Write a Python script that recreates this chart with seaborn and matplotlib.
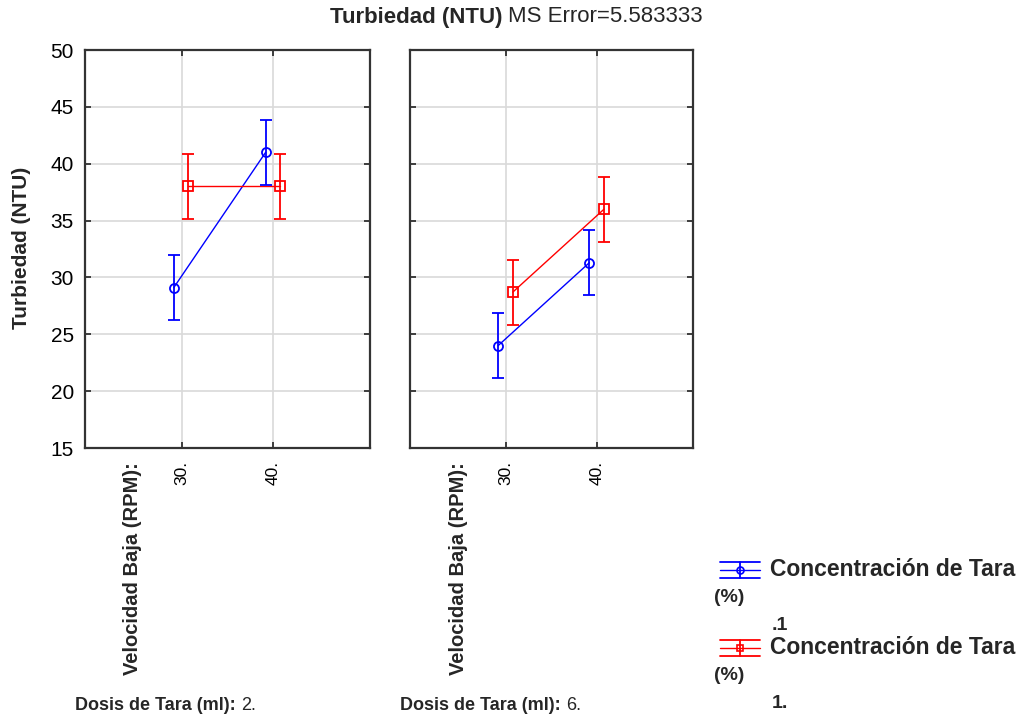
import matplotlib
matplotlib.use("Agg")
import matplotlib.pyplot as plt
import seaborn as sns
import pandas as pd
import numpy as np

sns.set_style("white")
plt.rcParams['font.family'] = ['Liberation Sans', 'DejaVu Sans']

# ---- data ----
velocidad = [30, 40]
dosis_labels = ["2.", "6."]
conc_labels = [".1", "1."]
# means per panel (Dosis 2, Dosis 6) for Concentración .1 (blue) and 1. (red)
blue_means = [[29.1, 41.0], [24.0, 31.3]]
red_means = [[38.0, 38.0], [28.7, 36.0]]
ci_half = 2.85
yticks = [15, 20, 25, 30, 35, 40, 45, 50]
xtick_labels = ["30.", "40."]

colors = {".1": "#0000ff", "1.": "#ff0000"}
markers = {".1": "o", "1.": "s"}
dodge = {".1": -0.85, "1.": 0.75}

W, H = 1034, 719
fig = plt.figure(figsize=(W / 100, H / 100), dpi=100)

panels = [(85, 370), (410, 693)]
top_px, bot_px = 50, 448

for p, (x0, x1) in enumerate(panels):
    ax = fig.add_axes([x0 / W, 1 - bot_px / H, (x1 - x0) / W, (bot_px - top_px) / H])
    rows = []
    for lab, means in ((".1", blue_means[p]), ("1.", red_means[p])):
        for v, m in zip(velocidad, means):
            rows.append({"x": v + dodge[lab], "y": m, "conc": lab})
    df = pd.DataFrame(rows)
    sns.lineplot(data=df, x="x", y="y", hue="conc", style="conc",
                 palette=colors, markers=markers, dashes=False,
                 markersize=6.5, linewidth=1.0, legend=False, ax=ax, zorder=3)
    for line in ax.lines:
        c = line.get_color()
        line.set_markerfacecolor("none")
        line.set_markeredgecolor(c)
        line.set_markeredgewidth(1.3)
    for lab in (".1", "1."):
        sub = df[df.conc == lab]
        ax.errorbar(sub["x"], sub["y"], yerr=ci_half, fmt="none",
                    ecolor=colors[lab], elinewidth=1.3, capsize=4, capthick=1.3, zorder=3)
    ax.set_xlim(19.5, 50.5)
    ax.set_ylim(15, 50)
    ax.set_yticks(yticks)
    ax.set_xticks(velocidad)
    ax.set_xticklabels(xtick_labels, rotation=90, fontsize=12.5)
    ax.grid(True, color="#d9d9d9", linewidth=1.2, zorder=0)
    ax.set_axisbelow(True)
    ax.tick_params(axis="both", direction="in", length=4, width=1.2,
                   top=True, right=True, bottom=True, left=True, colors="#222222",
                   labelcolor="black")
    ax.tick_params(axis="x", pad=9)
    ax.tick_params(axis="y", pad=8)
    for s in ax.spines.values():
        s.set_color("#333333")
        s.set_linewidth(1.6)
    ax.set_xlabel("")
    ax.set_ylabel("")
    if p == 0:
        ax.set_yticklabels([str(t) for t in yticks], fontsize=15)
    else:
        ax.set_yticklabels([])
    # rotated factor label
    fig.text((x0 + 48) / W, 1 - 462 / H, "Velocidad Baja (RPM):", rotation=90,
             ha="center", va="top", fontsize=14.5, fontweight="bold")
    # panel label
    t = fig.text((x0 - 10) / W, 1 - 705 / H, "Dosis de Tara (ml):", ha="left", va="center",
                 fontsize=13, fontweight="bold")
    fig.canvas.draw()
    bb = t.get_window_extent()
    fig.text((bb.x1 + 5) / W, 1 - 705 / H, dosis_labels[p], ha="left", va="center",
             fontsize=13)

# y label
fig.text(22 / W, 1 - 248 / H, "Turbiedad (NTU)", rotation=90, ha="center", va="center",
         fontsize=15, fontweight="bold")

# title
t1 = fig.text(330 / W, 1 - 17 / H, "Turbiedad (NTU)", ha="left", va="center",
              fontsize=16, fontweight="bold")
fig.canvas.draw()
bb = t1.get_window_extent()
fig.text((bb.x1 + 5) / W, 1 - 17 / H, "MS Error=5.583333", ha="left", va="center",
         fontsize=16)

# legend
for i, lab in enumerate(conc_labels):
    yc = 570 + i * 78
    c = colors[lab]
    xs, xe = 720, 760
    for dy in (-8, 8):
        fig.add_artist(plt.Line2D([xs / W, xe / W], [1 - (yc + dy) / H] * 2, color=c, lw=1.3))
    fig.add_artist(plt.Line2D([xs / W, xe / W], [1 - yc / H] * 2, color=c, lw=1.0))
    fig.add_artist(plt.Line2D([(xs + 20) / W] * 2, [1 - (yc - 8) / H, 1 - (yc + 8) / H],
                              color=c, lw=1.3))
    fig.add_artist(plt.Line2D([(xs + 20) / W], [1 - yc / H], color=c, marker=markers[lab],
                              markersize=5, markerfacecolor="none", markeredgewidth=1.2))
    fig.text(770 / W, 1 - yc / H, "Concentración de Tara", ha="left", va="center",
             fontsize=16.5, fontweight="bold")
    fig.text(714 / W, 1 - (yc + 28) / H, "(%)", ha="left", va="center",
             fontsize=14, fontweight="bold")
    fig.text(772 / W, 1 - (yc + 55) / H, lab, ha="left", va="center",
             fontsize=14, fontweight="bold")

fig.savefig("out.png", dpi=100, facecolor="white")
